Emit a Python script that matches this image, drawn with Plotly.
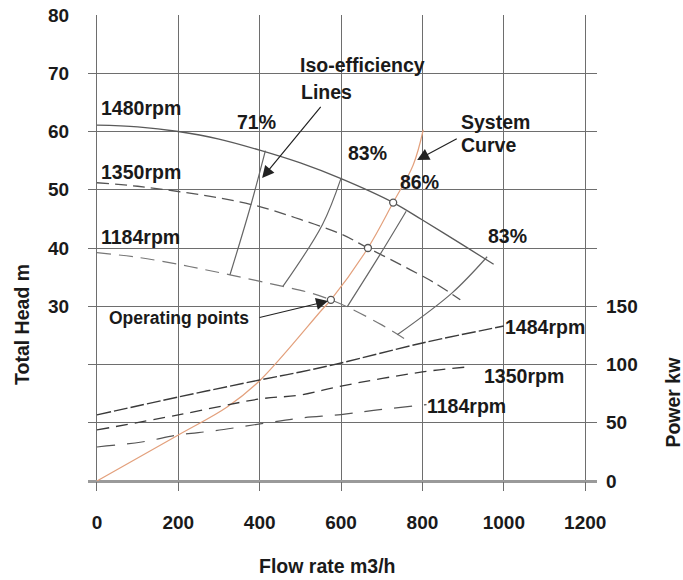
import plotly.graph_objects as go

# ---------------- data ----------------
# Head curves (left axis, m) vs flow (m3/h)
q_1480 = [0, 100, 200, 300, 400, 500, 600, 728, 800, 900, 975]
h_1480 = [61.1, 60.8, 60.0, 58.7, 56.8, 54.6, 51.9, 47.8, 44.8, 40.5, 37.2]

q_1350 = [0, 100, 200, 300, 400, 500, 600, 666, 750, 830, 893]
h_1350 = [51.2, 50.6, 49.7, 48.6, 47.1, 44.9, 42.4, 40.0, 37.0, 34.0, 31.1]

q_1184 = [0, 100, 200, 250, 327, 457, 524, 575, 615, 700, 770]
h_1184 = [39.2, 38.4, 37.2, 36.5, 35.4, 33.4, 32.3, 31.1, 29.9, 26.8, 23.8]

# System curve
q_sys = [0, 200, 320, 401, 553, 575, 666, 728, 777, 802]
h_sys = [0, 7.9, 12.7, 17.3, 29.4, 31.1, 40.0, 47.8, 54.2, 60.3]

# Iso-efficiency lines (crossing 1480, 1350, 1184 rpm curves)
q_eff71 = [414, 378, 327]
h_eff71 = [56.7, 47.3, 35.4]
q_eff83a = [600, 554, 457]
h_eff83a = [52.0, 44.0, 33.4]
q_eff86 = [760, 696, 615]
h_eff86 = [46.3, 38.9, 29.9]
q_eff83b = [959, 873, 738]
h_eff83b = [38.5, 32.3, 25.1]

# Operating points
q_op = [728, 666, 575]
h_op = [47.8, 40.0, 31.1]

# Power curves (right axis, kW)
q_p1484 = [0, 200, 400, 500, 600, 800, 1000]
p_1484 = [56.7, 72.1, 86.7, 93.6, 101.3, 118.5, 133.0]
q_p1350 = [0, 200, 400, 500, 600, 800, 910]
p_1350 = [43.8, 56.7, 70.4, 73.8, 81.5, 93.6, 97.9]
q_p1184 = [0, 110, 200, 290, 410, 500, 600, 690, 810]
p_1184 = [29.2, 33.5, 39.5, 43.2, 49.5, 54.0, 57.0, 61.0, 65.5]

x_ticks = [0, 200, 400, 600, 800, 1000, 1200]
y_ticks = [0, 10, 20, 30, 40, 50, 60, 70, 80]
y_ticktext = ["", "", "", "30", "40", "50", "60", "70", "80"]
y2_ticks = [0, 50, 100, 150]

FONT = "Liberation Sans, Arial, sans-serif"
TXT = "#1a1a1a"
GRID = "#6e6e6e"
FS = 19.5

fig = go.Figure()

def line(x, y, color, dash="solid", width=1.2, yaxis="y", shape="spline"):
    fig.add_trace(go.Scatter(x=x, y=y, mode="lines", yaxis=yaxis,
                             line=dict(color=color, dash=dash, width=width, shape=shape),
                             hoverinfo="skip", showlegend=False))

# head curves
line(q_1480, h_1480, "#5a5a5a", "solid", 1.3)
line(q_1350, h_1350, "#555555", "12px,6px", 1.3)
line(q_1184, h_1184, "#777777", "14px,8px", 1.2)

# iso-efficiency lines
for qq, hh in [(q_eff71, h_eff71), (q_eff83a, h_eff83a), (q_eff86, h_eff86), (q_eff83b, h_eff83b)]:
    line(qq, hh, "#666666", "solid", 1.2)

# system curve
line(q_sys, h_sys, "#e3a07c", "solid", 1.2)

# power curves
line(q_p1484, p_1484, "#3a3a3a", "14px,3px", 1.4, yaxis="y2")
line(q_p1350, p_1350, "#3a3a3a", "12px,7px", 1.3, yaxis="y2")
line(q_p1184, p_1184, "#555555", "18px,12px", 1.2, yaxis="y2")

# operating points
fig.add_trace(go.Scatter(x=q_op, y=h_op, mode="markers",
                         marker=dict(size=7, color="white", line=dict(color="#555555", width=1.3)),
                         hoverinfo="skip", showlegend=False))

ann = []
def label(x, y, text, xanchor="center", size=FS):
    ann.append(dict(x=x, y=y, xref="x", yref="y", text="<b>%s</b>" % text,
                    showarrow=False, xanchor=xanchor, yanchor="middle",
                    font=dict(family=FONT, size=size, color=TXT)))

label(4, 64.0, "1480rpm", "left")
label(4, 53.0, "1350rpm", "left")
label(4, 41.9, "1184rpm", "left")
label(393, 61.6, "71%")
label(664, 56.3, "83%")
label(792, 51.3, "86%")
label(1008, 42.1, "83%")
label(652, 71.4, "Iso-efficiency")
label(563, 66.8, "Lines")
label(891, 61.6, "System", "left")
label(891, 57.7, "Curve", "left")
label(202, 28.0, "Operating points", size=17.5)
label(998, 26.4, "1484rpm", "left")
label(947, 18.0, "1350rpm", "left")
label(807, 12.9, "1184rpm", "left")

def arrow(x, y, ax, ay):
    ann.append(dict(x=x, y=y, ax=ax, ay=ay, xref="x", yref="y", axref="x", ayref="y",
                    text="", showarrow=True, arrowhead=2, arrowsize=2.0, arrowwidth=1.2,
                    arrowcolor="#222222"))

arrow(406, 52.0, 553, 64.5)
arrow(787, 55.1, 888, 58.9)
arrow(568, 30.9, 396, 28.0)

# axis titles
def title(x, y, text, angle=0):
    ann.append(dict(x=x, y=y, xref="paper", yref="paper", text="<b>%s</b>" % text,
                    textangle=angle, showarrow=False, xanchor="center", yanchor="middle",
                    font=dict(family=FONT, size=FS, color=TXT)))

title(-0.1297, 0.337, "Total Head m", -90)
title(1.149, 0.170, "Power kw", -90)
title(0.4715, -0.1824, "Flow rate m3/h")

tickfont = dict(family=FONT, size=19, color=TXT, weight="bold")

fig.update_layout(
    width=683, height=580,
    margin=dict(l=88, r=86, t=15, b=99, autoexpand=False),
    paper_bgcolor="white", plot_bgcolor="white",
    showlegend=False,
    annotations=ann,
    xaxis=dict(range=[-22, 1229], tickvals=x_ticks, showgrid=True, gridcolor=GRID, gridwidth=1.3,
               zeroline=False, ticks="outside", ticklen=9, tickcolor=GRID, tickwidth=1.3,
               ticklabelstandoff=15, tickfont=tickfont, showline=False, fixedrange=True,
               automargin=False),
    yaxis=dict(range=[0, 80], tickvals=y_ticks, ticktext=y_ticktext, showgrid=True,
               gridcolor=GRID, gridwidth=1.3, zeroline=True, zerolinecolor="#9a9a9a",
               zerolinewidth=3, ticks="outside", ticklen=6, tickcolor="rgba(0,0,0,0)",
               ticklabelstandoff=8, tickfont=tickfont, showline=False, fixedrange=True,
               automargin=False),
    yaxis2=dict(range=[0, 400], tickvals=y2_ticks, overlaying="y", side="right", showgrid=False,
                zeroline=False, ticks="", ticklabelstandoff=8, tickfont=tickfont,
                showline=False, fixedrange=True, automargin=False),
)

fig.write_html("out.html", config={"displayModeBar": False},
               post_script="document.body.style.margin='0';document.body.style.overflow='hidden';")
